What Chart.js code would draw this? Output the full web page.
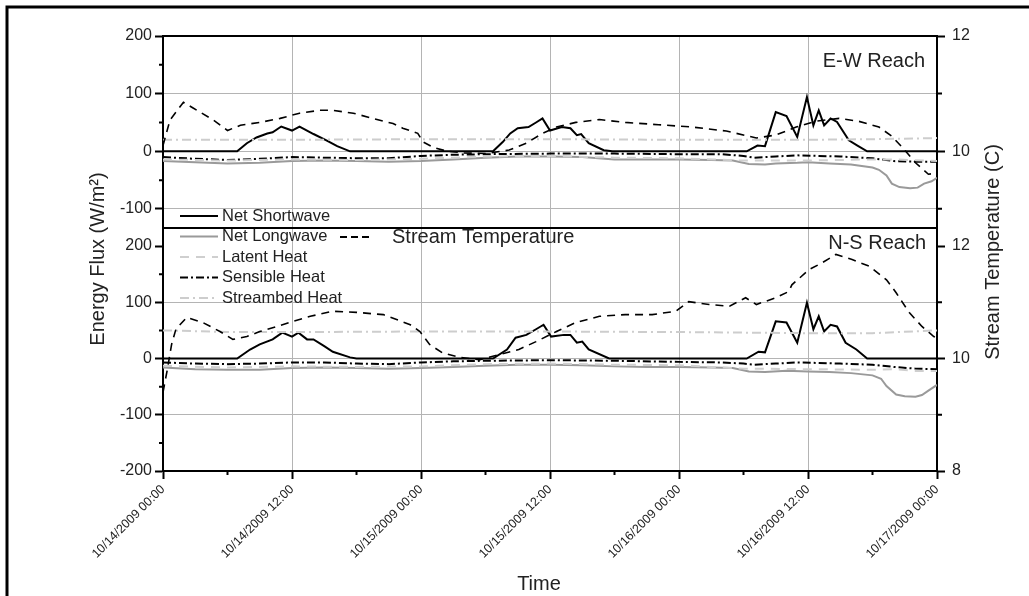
<!DOCTYPE html>
<html>
<head>
<meta charset="utf-8">
<script src="https://cdn.jsdelivr.net/npm/chart.js@4.4.1/dist/chart.umd.min.js"></script>
<style>
  html, body { margin: 0; padding: 0; background: #fff; }
  #wrap { width: 1029px; height: 596px; }
</style>
</head>
<body>
<div id="wrap"><canvas id="fluxChart" width="1029" height="596"></canvas></div>
<script>
// data: [hour since 10/14/2009 00:00, value]
// E-W reach (W/m2, temperature in C)
var ewShortwave = [[0,0],[6.9,0],[7.8,14],[8.7,24],[9.7,31],[10.2,33],[11,43],[12,36],[12.7,43],[13.7,33],[14,30],[15.2,19],[16.2,9],[17.4,0],
  [30.7,0],[31.6,16],[32.3,31],[33,40],[34,42],[34.7,50],[35.3,57],[36,36],[37.1,42],[37.9,40],[38.5,28],[38.9,30],[39.6,14],[41,2],[41.8,0],
  [54.3,0],[55.3,10],[56,9],[57,68],[58,61],[59,25],[59.9,94],[60.5,45],[61,71],[61.5,45],[62.1,57],[62.7,51],[63.8,19],[64.6,10],[65.5,0],[72,0]];
var ewLongwave = [[0,-17],[3,-19],[6,-21],[9,-20],[12,-17],[15,-16],[18,-17],[21,-18],[24,-17],[27,-14],[30,-11],[33,-9],[36,-9],[39,-10],[42,-14],
  [45,-14],[48,-14],[51,-15],[53,-16],[54.5,-22],[56,-23],[57,-21],[59,-20],[60,-19],[62,-21],[64,-23],[66,-28],[66.6,-32],[67.3,-42],[67.8,-56],
  [68.5,-62],[69.5,-64],[70.2,-63],[70.8,-56],[71.5,-52],[72,-46]];
var ewLatent = [[0,-14],[6,-16],[12,-14],[18,-15],[24,-13],[30,-9],[36,-8],[42,-11],[48,-12],[54,-16],[60,-16],[66,-14],[68,-14],[72,-17]];
var ewSensible = [[0,-10],[3,-13],[6,-15],[9,-13],[12,-10],[15,-11],[18,-12],[21,-12],[24,-8],[27,-6],[30,-5],[36,-4],[42,-4],[48,-5],[52,-5],
  [54,-8],[55,-11],[57,-9],[59,-7],[61,-8],[63,-9],[66,-12],[68,-17],[70,-18],[72,-18]];
var ewStreambed = [[0,20],[12,20],[24,21],[36,21],[48,20],[60,20],[66,21],[72,23]];
var ewTemp = [[0,10.1],[0.65,10.54],[1.9,10.85],[2.8,10.75],[4.7,10.54],[6,10.36],[7.2,10.45],[9,10.5],[10.9,10.57],[12.7,10.66],[14.6,10.71],
  [15.8,10.71],[17.7,10.66],[19.5,10.57],[21.4,10.48],[22.3,10.4],[23.7,10.31],[24.2,10.16],[25.1,10.07],[26.4,10],[28,9.97],[30,9.96],
  [32.2,10.02],[33.8,10.14],[35.3,10.31],[36.6,10.42],[38.4,10.5],[40.6,10.55],[43,10.5],[46.1,10.46],[49.2,10.42],[52.4,10.35],[55.2,10.23],
  [57,10.28],[58.9,10.42],[60.7,10.52],[62.9,10.57],[64.7,10.52],[66.6,10.42],[67.8,10.26],[68.9,10.04],[70,9.8],[71.2,9.6],[72,9.62]];

// N-S reach
var nsShortwave = [[0,0],[6.9,0],[8.1,16],[9,25],[10.2,34],[11.1,46],[12,39],[12.6,46],[13.4,34],[14,34],[15,22],[15.8,12],[17.4,2],[18,0],
  [30.7,0],[32,16],[32.8,37],[33.8,42],[34.7,52],[35.4,60],[36.1,39],[37.3,42],[37.9,42],[38.5,28],[39,30],[39.6,16],[41.5,0],
  [54.3,0],[55.4,12],[56,11],[57,66],[58,64],[59,28],[59.9,99],[60.5,52],[61,75],[61.5,48],[62.1,60],[62.7,57],[63.5,28],[64.5,16],[65.5,0],[72,0]];
var nsLongwave = [[0,-16],[3,-19],[6,-20],[9,-20],[12,-17],[15,-16],[18,-17],[21,-18],[24,-17],[27,-15],[30,-13],[33,-11],[36,-11],[39,-12],
  [42,-14],[45,-15],[48,-15],[51,-16],[53,-17],[54.5,-23],[56,-24],[58,-22],[60,-23],[62,-24],[64,-26],[66,-30],[66.8,-36],[67.3,-49],
  [68.2,-64],[69,-67],[70,-68],[70.6,-65],[71.2,-57],[72,-47]];
var nsLatent = [[0,-13],[6,-16],[12,-14],[18,-15],[24,-14],[30,-10],[36,-9],[42,-11],[48,-12],[54,-18],[60,-19],[66,-20],[68,-19],[70,-22],[72,-22]];
var nsSensible = [[0,-7],[3,-9],[6,-10],[9,-9],[12,-7],[15,-7],[18,-9],[21,-10],[24,-7],[27,-5],[30,-4],[36,-3],[42,-4],[48,-6],[52,-7],
  [54,-9],[55,-11],[57,-9],[59,-7],[61,-8],[63,-9],[66,-11],[68,-15],[70,-18],[72,-19]];
var nsStreambed = [[0,50],[6,47],[12,47],[24,48],[36,48],[48,47],[60,45],[66,45],[72,50]];
var nsTemp = [[0,9.4],[0.4,9.8],[0.8,10.25],[1.2,10.52],[2.2,10.73],[3.7,10.64],[5.3,10.48],[6.5,10.34],[7.8,10.39],[9,10.48],[10.6,10.57],
  [12.1,10.66],[13.7,10.75],[15.8,10.84],[18,10.82],[20.5,10.78],[23,10.6],[23.9,10.48],[24.8,10.25],[26,10.1],[27.6,10.02],[29.5,9.98],
  [32.3,10.12],[33.1,10.16],[34.7,10.3],[36.6,10.48],[38.4,10.64],[40.6,10.75],[43,10.78],[45.5,10.78],[47.7,10.84],[48.9,11.01],[50.8,10.96],
  [52.7,10.93],[54.2,11.08],[55.2,10.96],[57,11.08],[58.2,11.19],[58.5,11.31],[60.1,11.58],[61.3,11.7],[62.6,11.85],[64.1,11.76],[65.7,11.64],
  [67.3,11.4],[68.2,11.17],[69.4,10.82],[70.6,10.57],[71.7,10.39],[72,10.36]];

// ticks
var xTicks = [0,6,12,18,24,30,36,42,48,54,60,66,72];
var fluxTicksTop = [-100,-50,0,50,100,150,200];
var fluxTicksBottom = [-200,-150,-100,-50,0,50,100,150,200];
var tempTicksTop = [9,10,11,12];
var tempTicksBottom = [8,9,10,11,12];

var FONT = '"Liberation Sans", Arial, sans-serif';
var GRID = '#b4b4b4';
var NONE = 'rgba(0,0,0,0)';

function fmtTime(h) {
  var d = 14 + Math.floor(h / 24), hh = h % 24;
  return '10/' + d + '/2009 ' + (hh < 10 ? '0' : '') + hh + ':00';
}

var styles = {
  shortwave: { color: '#000', width: 2, dash: [] },
  longwave: { color: '#9a9a9a', width: 2, dash: [] },
  latent: { color: '#cfcfcf', width: 2, dash: [9, 7] },
  sensible: { color: '#000', width: 2, dash: [8, 3, 2, 3] },
  streambed: { color: '#cdcdcd', width: 2, dash: [9, 4, 2, 4] },
  temp: { color: '#000', width: 1.6, dash: [8, 6] }
};

function ds(label, data, st, axis) {
  return {
    label: label, data: data, yAxisID: axis,
    borderColor: st.color, borderWidth: st.width, borderDash: st.dash,
    pointRadius: 0, tension: 0, fill: false
  };
}

function yAxis(pos, min, max, weight, stackWeight, ticks, majorFn, gridFn, pad) {
  return {
    type: 'linear', position: pos, stack: pos, stackWeight: stackWeight, weight: weight,
    min: min, max: max,
    afterBuildTicks: function (s) { s.ticks = ticks.map(function (v) { return { value: v }; }); },
    afterFit: function (s) { s.width = pos === 'left' ? 163 : 92; },
    ticks: {
      autoSkip: false, padding: pad, color: '#222', font: { family: FONT, size: 16 },
      callback: function (v) { return majorFn(v) ? String(v) : ''; }
    },
    grid: {
      drawOnChartArea: pos === 'left', tickLength: 8, lineWidth: 1,
      color: function (c) { return c.tick && gridFn(c.tick.value) ? GRID : NONE; },
      tickColor: function (c) { return c.tick && majorFn(c.tick.value) ? '#000' : NONE; },
      tickWidth: 2
    },
    border: { color: '#000', width: 2 }
  };
}

var decor = {
  id: 'decor',
  beforeDraw: function (chart) {
    var ctx = chart.ctx;
    ctx.save(); ctx.fillStyle = '#fff'; ctx.fillRect(0, 0, chart.width, chart.height); ctx.restore();
  },
  afterDraw: function (chart) {
    var ctx = chart.ctx, a = chart.chartArea, s = chart.scales;
    ctx.save();
    ctx.strokeStyle = '#000';
    ctx.lineWidth = 2;
    ctx.beginPath();
    ctx.moveTo(a.left, a.top); ctx.lineTo(a.right, a.top);
    ctx.moveTo(a.left, s.yT.bottom); ctx.lineTo(a.right, s.yT.bottom);
    ctx.stroke();

    // minor ticks
    ctx.lineWidth = 2;
    ctx.beginPath();
    [['yT', fluxTicksTop, 100], ['yB', fluxTicksBottom, 100]].forEach(function (t) {
      t[1].forEach(function (v) {
        if (v % t[2] !== 0) { var y = s[t[0]].getPixelForValue(v); ctx.moveTo(a.left - 4, y); ctx.lineTo(a.left, y); }
      });
    });
    [['tT', tempTicksTop], ['tB', tempTicksBottom]].forEach(function (t) {
      t[1].forEach(function (v) {
        if (v % 2 !== 0) { var y = s[t[0]].getPixelForValue(v); ctx.moveTo(a.right, y); ctx.lineTo(a.right + 5, y); }
      });
    });
    xTicks.forEach(function (v) {
      if (v % 12 !== 0) { var x = s.x.getPixelForValue(v); ctx.moveTo(x, a.bottom); ctx.lineTo(x, a.bottom + 4); }
    });
    ctx.stroke();

    // outer frame
    ctx.lineWidth = 3;
    ctx.strokeRect(7, 7, 1040, 600);

    // titles
    ctx.fillStyle = '#222';
    ctx.font = '20px ' + FONT;
    ctx.textBaseline = 'middle';
    ctx.textAlign = 'center';
    ctx.fillText('Time', 539, 584);
    ctx.save(); ctx.translate(98, 259); ctx.rotate(-Math.PI / 2);
    ctx.fillText('Energy Flux (W/m\u00B2)', 0, 0); ctx.restore();
    ctx.save(); ctx.translate(993, 252); ctx.rotate(-Math.PI / 2);
    ctx.fillText('Stream Temperature (C)', 0, 0); ctx.restore();
    ctx.textAlign = 'right';
    ctx.fillText('E-W Reach', a.right - 12, 61);
    ctx.fillText('N-S Reach', a.right - 11, 243);

    // legend
    var rows = [['Net Shortwave', styles.shortwave], ['Net Longwave', styles.longwave], ['Latent Heat', styles.latent],
      ['Sensible Heat', styles.sensible], ['Streambed Heat', styles.streambed]];
    ctx.font = '16.5px ' + FONT;
    ctx.textAlign = 'left';
    rows.forEach(function (r, i) {
      var y = 216 + i * 20.5;
      ctx.strokeStyle = r[1].color; ctx.lineWidth = 2; ctx.setLineDash(r[1].dash);
      ctx.beginPath(); ctx.moveTo(180, y); ctx.lineTo(218, y); ctx.stroke();
      ctx.setLineDash([]);
      ctx.fillText(r[0], 222, y);
    });
    ctx.strokeStyle = '#000'; ctx.lineWidth = 2; ctx.setLineDash([7, 4]);
    ctx.beginPath(); ctx.moveTo(340, 237); ctx.lineTo(369, 237); ctx.stroke();
    ctx.setLineDash([]);
    ctx.font = '20px ' + FONT;
    ctx.fillText('Stream Temperature', 392, 237);
    ctx.restore();
  }
};

new Chart(document.getElementById('fluxChart'), {
  type: 'line',
  data: {
    datasets: [
      ds('Stream Temperature', ewTemp, styles.temp, 'tT'),
      ds('Streambed Heat', ewStreambed, styles.streambed, 'yT'),
      ds('Latent Heat', ewLatent, styles.latent, 'yT'),
      ds('Net Longwave', ewLongwave, styles.longwave, 'yT'),
      ds('Sensible Heat', ewSensible, styles.sensible, 'yT'),
      ds('Net Shortwave', ewShortwave, styles.shortwave, 'yT'),
      ds('Stream Temperature', nsTemp, styles.temp, 'tB'),
      ds('Streambed Heat', nsStreambed, styles.streambed, 'yB'),
      ds('Latent Heat', nsLatent, styles.latent, 'yB'),
      ds('Net Longwave', nsLongwave, styles.longwave, 'yB'),
      ds('Sensible Heat', nsSensible, styles.sensible, 'yB'),
      ds('Net Shortwave', nsShortwave, styles.shortwave, 'yB')
    ]
  },
  options: {
    responsive: false,
    animation: false,
    devicePixelRatio: 1,
    layout: { padding: { top: 36, left: 0, right: 0, bottom: 0 } },
    plugins: { legend: { display: false }, tooltip: { enabled: false } },
    scales: {
      x: {
        type: 'linear', min: 0, max: 72,
        afterBuildTicks: function (s) { s.ticks = xTicks.map(function (v) { return { value: v }; }); },
        afterFit: function (s) { s.height = 125; },
        ticks: {
          autoSkip: false, minRotation: 45, maxRotation: 45, padding: 3, color: '#222',
          font: { family: FONT, size: 12.5 },
          callback: function (v) { return v % 12 === 0 ? fmtTime(v) : ''; }
        },
        grid: {
          tickLength: 8, lineWidth: 1, tickWidth: 2,
          color: function (c) { return c.tick && c.tick.value % 12 === 0 && c.tick.value > 0 && c.tick.value < 72 ? GRID : NONE; },
          tickColor: function (c) { return c.tick && c.tick.value % 12 === 0 ? '#000' : NONE; }
        },
        border: { color: '#000', width: 2 }
      },
      yT: yAxis('left', -133, 200, 2, 192, fluxTicksTop,
        function (v) { return v % 100 === 0; }, function (v) { return v % 100 === 0 && v < 200; }, 3),
      yB: yAxis('left', -200, 232, 1, 243, fluxTicksBottom,
        function (v) { return v % 100 === 0; }, function (v) { return v % 100 === 0 && Math.abs(v) < 200; }, 3),
      tT: yAxis('right', 8.667, 12, 1, 192, tempTicksTop,
        function (v) { return v % 2 === 0; }, function () { return false; }, 7),
      tB: yAxis('right', 8, 12.32, 2, 243, tempTicksBottom,
        function (v) { return v % 2 === 0; }, function () { return false; }, 7)
    }
  },
  plugins: [decor]
});
</script>
</body>
</html>
